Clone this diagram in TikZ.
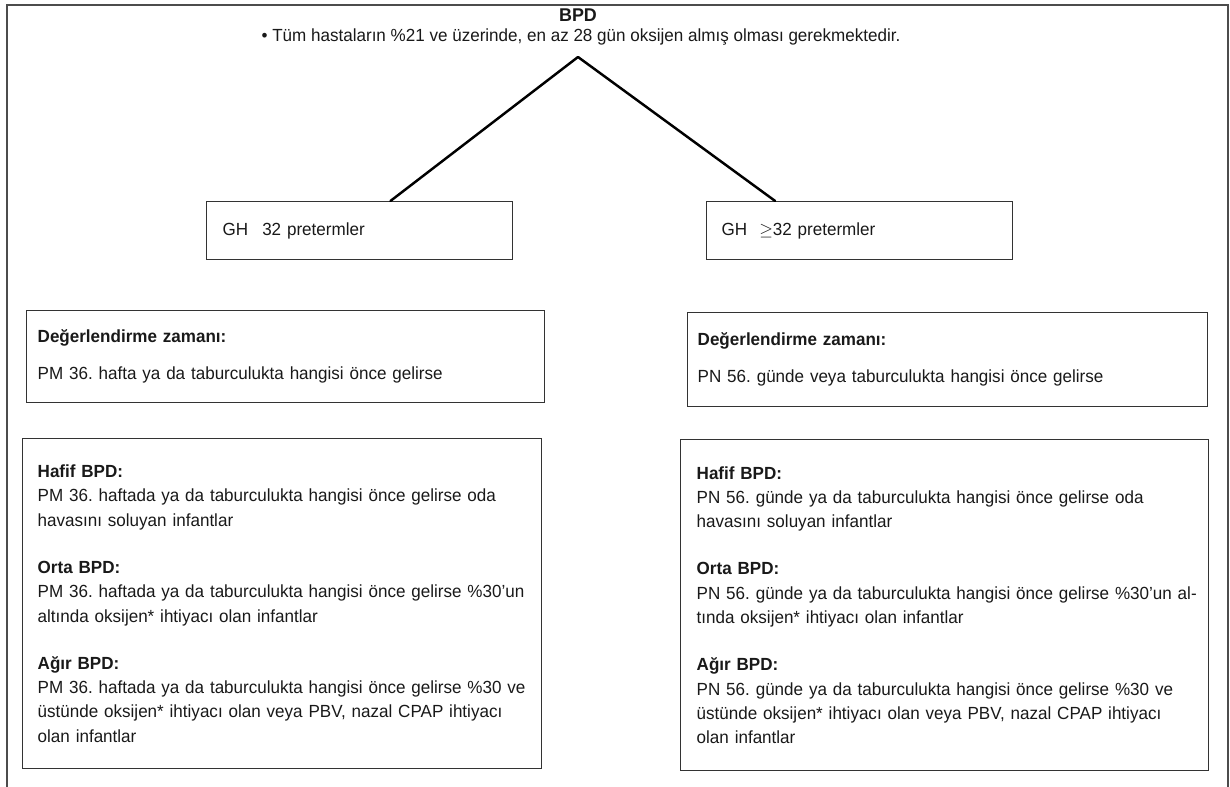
\documentclass[tikz,border=0pt]{standalone}
\usepackage{fontspec}
\setmainfont[FakeStretch=0.97]{Liberation Sans}
\usetikzlibrary{calc}
\frenchspacing
\tikzset{
  yazi/.style={font=\fontsize{10}{13.9}\selectfont,text=black!90,inner sep=0pt},
  bloc/.style={yazi,draw=black!80,line width=0.8pt,rectangle,anchor=north west,
    align=left,inner ysep=0pt},
  cadre/.style={draw=black!70,line width=1.1pt},
  lien/.style={line width=1.4pt,line cap=round},
}

\begin{document}
\begin{tikzpicture}[x=0.02cm,y=-0.02cm]
  \useasboundingbox (0,0) rectangle (1230,787);
  \draw[cadre] (7,787) -- (7,5) -- (1228,5) -- (1228,787);
  \node[yazi,font=\fontsize{10.5}{13.9}\selectfont\bfseries] (bpd) at (578,15) {BPD};
  \node[yazi] (kriter) at (581,37) {\textbullet\ Tüm hastaların \%21 ve üzerinde, en az 28 gün oksijen almış olması gerekmektedir.};
  \coordinate (tepe) at (578,57);
  % gebelik haftası kutuları
  \node[bloc,inner xsep=0.32cm,text width=5.48cm,minimum height=1.16cm] (gh1) at (206,201) {GH\hspace{0.28cm}32 pretermler};
  \node[bloc,inner xsep=0.30cm,text width=5.52cm,minimum height=1.16cm] (gh2) at (706,201) {GH\hspace{0.24cm}$\geq$32 pretermler};
  \draw[lien] (tepe) -- ($(gh1.north west)!0.6!(gh1.north east)$);
  \draw[lien] (tepe) -- ($(gh2.north west)!0.225!(gh2.north east)$);
  % degerlendirme zamani
  \node[bloc,inner xsep=0.22cm,text width=9.92cm,minimum height=1.84cm] (deg1) at (26,310)
    {\textbf{Değerlendirme zamanı:}\\[0.25cm]PM 36. hafta ya da taburculukta hangisi önce gelirse};
  \node[bloc,inner xsep=0.20cm,text width=10.0cm,minimum height=1.88cm] (deg2) at (687,312)
    {\textbf{Değerlendirme zamanı:}\\[0.25cm]PN 56. günde veya taburculukta hangisi önce gelirse};
  % siddet dereceleri
  \node[bloc,inner xsep=0.30cm,text width=9.78cm,minimum height=6.6cm] (sev1) at (22,438)
    {\textbf{Hafif BPD:}\\
     PM 36. haftada ya da taburculukta hangisi önce gelirse oda\\
     havasını soluyan infantlar\\[0.45cm]
     \textbf{Orta BPD:}\\
     \mbox{PM 36. haftada ya da taburculukta hangisi önce gelirse \%30’un}\\
     altında oksijen* ihtiyacı olan infantlar\\[0.45cm]
     \textbf{Ağır BPD:}\\
     \mbox{PM 36. haftada ya da taburculukta hangisi önce gelirse \%30 ve}\\
     üstünde oksijen* ihtiyacı olan veya PBV, nazal CPAP ihtiyacı\\
     olan infantlar};
  \node[bloc,inner xsep=0.32cm,text width=9.92cm,minimum height=6.62cm] (sev2) at (680,439)
    {\textbf{Hafif BPD:}\\
     PN 56. günde ya da taburculukta hangisi önce gelirse oda\\
     havasını soluyan infantlar\\[0.45cm]
     \textbf{Orta BPD:}\\
     \mbox{PN 56. günde ya da taburculukta hangisi önce gelirse \%30’un al-}\\
     tında oksijen* ihtiyacı olan infantlar\\[0.45cm]
     \textbf{Ağır BPD:}\\
     \mbox{PN 56. günde ya da taburculukta hangisi önce gelirse \%30 ve}\\
     üstünde oksijen* ihtiyacı olan veya PBV, nazal CPAP ihtiyacı\\
     olan infantlar};
\end{tikzpicture}
\end{document}
